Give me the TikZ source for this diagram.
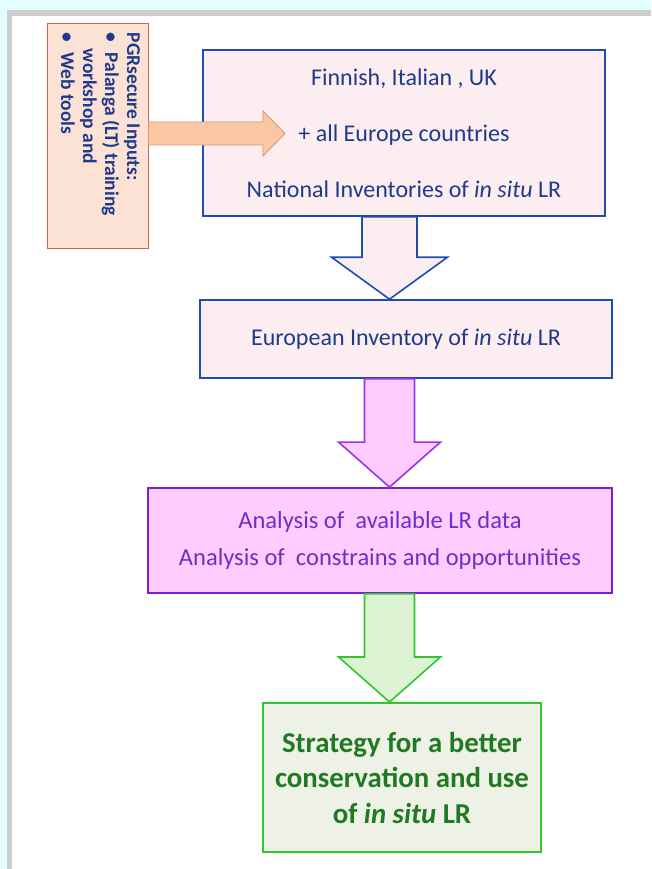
\documentclass[tikz,border=0pt]{standalone}
\usepackage{fontspec}
\setmainfont{Carlito}
\usetikzlibrary{calc}
\definecolor{bgcyan}{HTML}{E2FEFE}
\definecolor{framegrey}{HTML}{CDCDCD}
\definecolor{infill}{HTML}{FCE2D4}
\definecolor{inline}{HTML}{C8654E}
\definecolor{orfill}{HTML}{FAC7A4}
\definecolor{orline}{HTML}{E4906A}
\definecolor{pinkfill}{HTML}{FCEEF0}
\definecolor{blueline}{HTML}{1F4CB4}
\definecolor{bluetext}{HTML}{1F3A8C}
\definecolor{magfill}{HTML}{FFCCFF}
\definecolor{purpline}{HTML}{7A1FD8}
\definecolor{purparrow}{HTML}{9A33F0}
\definecolor{purptext}{HTML}{6C2FC8}
\definecolor{grfill}{HTML}{DDF4D4}
\definecolor{grline}{HTML}{2FC62F}
\definecolor{stratfill}{HTML}{EEF2E6}
\definecolor{grtext}{HTML}{1F7A22}

% block arrow pointing down from one box to the next
\newcommand{\downblock}[3]{%
  \draw[#1] let \p1=(\arrx,0 |- #2.south), \p2=(\arrx,0 |- #3.north) in
    (\x1-\shaft,\y1) -- (\x1-\shaft,\y2+\headlen) -- (\x1-\headw,\y2+\headlen)
    -- (\x2,\y2) -- (\x1+\headw,\y2+\headlen) -- (\x1+\shaft,\y2+\headlen)
    -- (\x1+\shaft,\y1) -- cycle;}

\begin{document}
\begin{tikzpicture}[x=1pt,y=-1pt,line join=miter
  ,box/.style={draw,inner sep=0pt,align=center}
  ,bluebox/.style={box,draw=blueline,line width=1.6pt,fill=pinkfill,text=bluetext
    ,font=\fontsize{24}{56}\selectfont}
  ,inbox/.style={box,draw=inline,line width=0.8pt,fill=infill,text=bluetext
    ,font=\bfseries\fontsize{19.5}{22}\selectfont}
  ,anabox/.style={box,draw=purpline,line width=1.8pt,fill=magfill,text=purptext
    ,font=\fontsize{24.5}{37}\selectfont}
  ,stratbox/.style={box,draw=grline,line width=2pt,fill=stratfill,text=grtext
    ,font=\bfseries\fontsize{28.8}{35.5}\selectfont}]
\def\arrx{389.5}
\def\shaft{25pt}
\def\headw{51pt}
\def\headlen{45pt}
\useasboundingbox (0,0) rectangle (651,869);
\fill[bgcyan] (0,0) rectangle (651,869);
\fill[framegrey] (7,10) rectangle (651,869);
\fill[white] (12,16) rectangle (651,869);

\node[bluebox,minimum width=402,minimum height=166] (inv) at (404,133)
  {Finnish, Italian , UK\\+ all Europe countries\\National Inventories of \textit{in situ} LR};
\node[bluebox,minimum width=412,minimum height=78] (eu) at (406,339)
  {European Inventory of \textit{in situ} LR};
\node[anabox,minimum width=464,minimum height=105] (ana) at (380,540.5)
  {Analysis of~ available LR data\\Analysis of~ constrains and opportunities};
\node[stratbox,minimum width=278,minimum height=149] (strat) at (402,777.5)
  {Strategy for a better\\conservation and use\\of \textit{in situ} LR};
\node[inbox,minimum width=101,minimum height=225] (inputs) at (97.5,135.5)
  {\rotatebox{-90}{\parbox{205pt}{PGRsecure Inputs:\\
  \textbullet\hspace{10pt}Palanga (LT) training\\
  \hspace*{16pt}workshop and\\
  \textbullet\hspace{10pt}Web tools\par\vspace{6pt}}}};

% inputs arrow into the national inventories
\coordinate (intip) at (285,133.5);
\draw[orline,fill=orfill,line width=0.8pt] let \p1=(inputs.east), \p2=(intip) in
  (\x1,\y2+11.5) -- (\x2-22,\y2+11.5) -- (\x2-22,\y2+22.5) -- (\x2,\y2)
  -- (\x2-22,\y2-22.5) -- (\x2-22,\y2-11.5) -- (\x1,\y2-11.5) -- cycle;

{\def\shaft{27.5pt}\def\headw{58pt}\def\headlen{42pt}
  \downblock{blueline,fill=pinkfill,line width=1.6pt}{inv}{eu}}
\downblock{purparrow,fill=magfill,line width=1.6pt}{eu}{ana}
\downblock{grline,fill=grfill,line width=1.6pt}{ana}{strat}
\end{tikzpicture}
\end{document}
